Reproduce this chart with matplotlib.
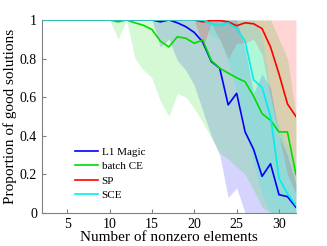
import numpy as np
import matplotlib
matplotlib.use("Agg")
import matplotlib.pyplot as plt

plt.rcParams['font.family'] = ['Liberation Serif', 'DejaVu Serif']

# number of nonzero elements
k = np.arange(2, 33)

# mean proportion of good solutions
l1_mean = [1, 1, 1, 1, 1, 1, 1, 1, 1, 1, 1, 1, 1, 1,
           0.99, 1.0, 0.985, 0.965, 0.935, 0.885, 0.785, 0.75, 0.56, 0.62,
           0.42, 0.33, 0.19, 0.255, 0.095, 0.085, 0.03]
ce_mean = [1, 1, 1, 1, 1, 1, 1, 1, 1, 0.99, 1.0, 0.985, 0.972, 0.95,
           0.89, 0.86, 0.913, 0.905, 0.879, 0.896, 0.79, 0.75, 0.725, 0.70,
           0.68, 0.605, 0.515, 0.48, 0.42, 0.42, 0.2]
sp_mean = [1, 1, 1, 1, 1, 1, 1, 1, 1, 1, 1, 1, 1, 1,
           1, 1, 1, 1, 1, 0.99, 0.997, 0.997, 0.99, 0.97,
           0.985, 0.98, 0.955, 0.86, 0.72, 0.565, 0.5]
sce_mean = [1, 1, 1, 1, 1, 1, 1, 1, 1, 1, 1, 1, 1, 1,
            1, 1, 1, 1, 1, 1, 0.98, 0.97, 0.985, 0.955,
            0.89, 0.69, 0.65, 0.5, 0.18, 0.1, 0.04]

# spread bands (lower / upper edge)
l1_lo = [1, 1, 1, 1, 1, 1, 1, 1, 1, 1, 1, 1, 1, 1,
         0.86, 0.9, 0.79, 0.74, 0.66, 0.53, 0.40, 0.30, 0.08, 0.13,
         0, 0, 0, 0, 0, 0, 0]
l1_hi = [1, 1, 1, 1, 1, 1, 1, 1, 1, 1, 1, 1, 1, 1,
         1, 1, 1, 1, 1, 1, 1, 1, 1, 1,
         0.85, 0.62, 0.72, 0.65, 0.4, 0.3, 0.15]
ce_lo = [1, 1, 1, 1, 1, 1, 1, 1, 1, 0.9, 1, 0.8, 0.74, 0.7,
         0.58, 0.5, 0.62, 0.6, 0.54, 0.47, 0.39, 0.31, 0.28, 0.24,
         0.2, 0.12, 0.03, 0, 0, 0, 0]
ce_hi = [1, 1, 1, 1, 1, 1, 1, 1, 1, 1, 1, 1, 1, 1,
         1, 1, 1, 1, 1, 1, 1, 1, 1, 1,
         1, 1, 1, 1, 0.9, 0.8, 0.5]
sp_lo = [1, 1, 1, 1, 1, 1, 1, 1, 1, 1, 1, 1, 1, 1,
         1, 1, 1, 1, 1, 0.86, 0.98, 0.9, 0.8, 0.88,
         0.88, 0.9, 0.82, 0.6, 0.4, 0.2, 0.1]
sp_hi = [1] * 31
sce_lo = [1, 1, 1, 1, 1, 1, 1, 1, 1, 1, 1, 1, 1, 1,
          1, 1, 1, 1, 1, 1, 0.92, 0.9, 0.78, 0.64,
          0.45, 0.25, 0.1, 0, 0, 0, 0]
sce_hi = [1, 1, 1, 1, 1, 1, 1, 1, 1, 1, 1, 1, 1, 1,
          1, 1, 1, 1, 1, 1, 1, 1, 1, 1,
          1, 1, 0.92, 0.62, 0.45, 0.35, 0.25]

labels = ["L1 Magic", "batch CE", "SP", "SCE"]
colors = ["#0000ff", "#00dd00", "#ff0000", "#00eeee"]
means = [l1_mean, ce_mean, sp_mean, sce_mean]
lows = [l1_lo, ce_lo, sp_lo, sce_lo]
highs = [l1_hi, ce_hi, sp_hi, sce_hi]

fig = plt.figure(figsize=(3.27, 2.46), dpi=100)
ax = fig.add_axes([0.128, 0.134, 0.777, 0.785])

# bands first, then lines on top
for lo, hi, c in zip(lows, highs, colors):
    ax.fill_between(k, lo, hi, color=c, alpha=0.17, linewidth=0)
for m, c, lab in zip(means, colors, labels):
    ax.plot(k, m, color=c, linewidth=1.2, label=lab)

ax.set_xlim(2, 32)
ax.set_ylim(0, 1)
ax.set_xticks([5, 10, 15, 20, 25, 30])
ax.set_yticks([0, 0.2, 0.4, 0.6, 0.8, 1])
ax.set_yticklabels(["0", "0.2", "0.4", "0.6", "0.8", "1"])
ax.tick_params(direction='in', length=3, labelsize=10, color='#808080')
for s in ['top', 'right']:
    ax.spines[s].set_visible(False)
for s in ['left', 'bottom']:
    ax.spines[s].set_color('#808080')
    ax.spines[s].set_linewidth(0.8)
ax.set_xlabel("Number of nonzero elements", fontsize=11, labelpad=0)
ax.set_ylabel("Proportion of good solutions", fontsize=11, labelpad=2)

ax.legend(loc='upper left', bbox_to_anchor=(0.13, 0.34), frameon=False,
          fontsize=8, handlelength=2.1, handletextpad=0.3, labelspacing=0.4,
          borderpad=0, borderaxespad=0)

fig.savefig("out.png", dpi=100)
